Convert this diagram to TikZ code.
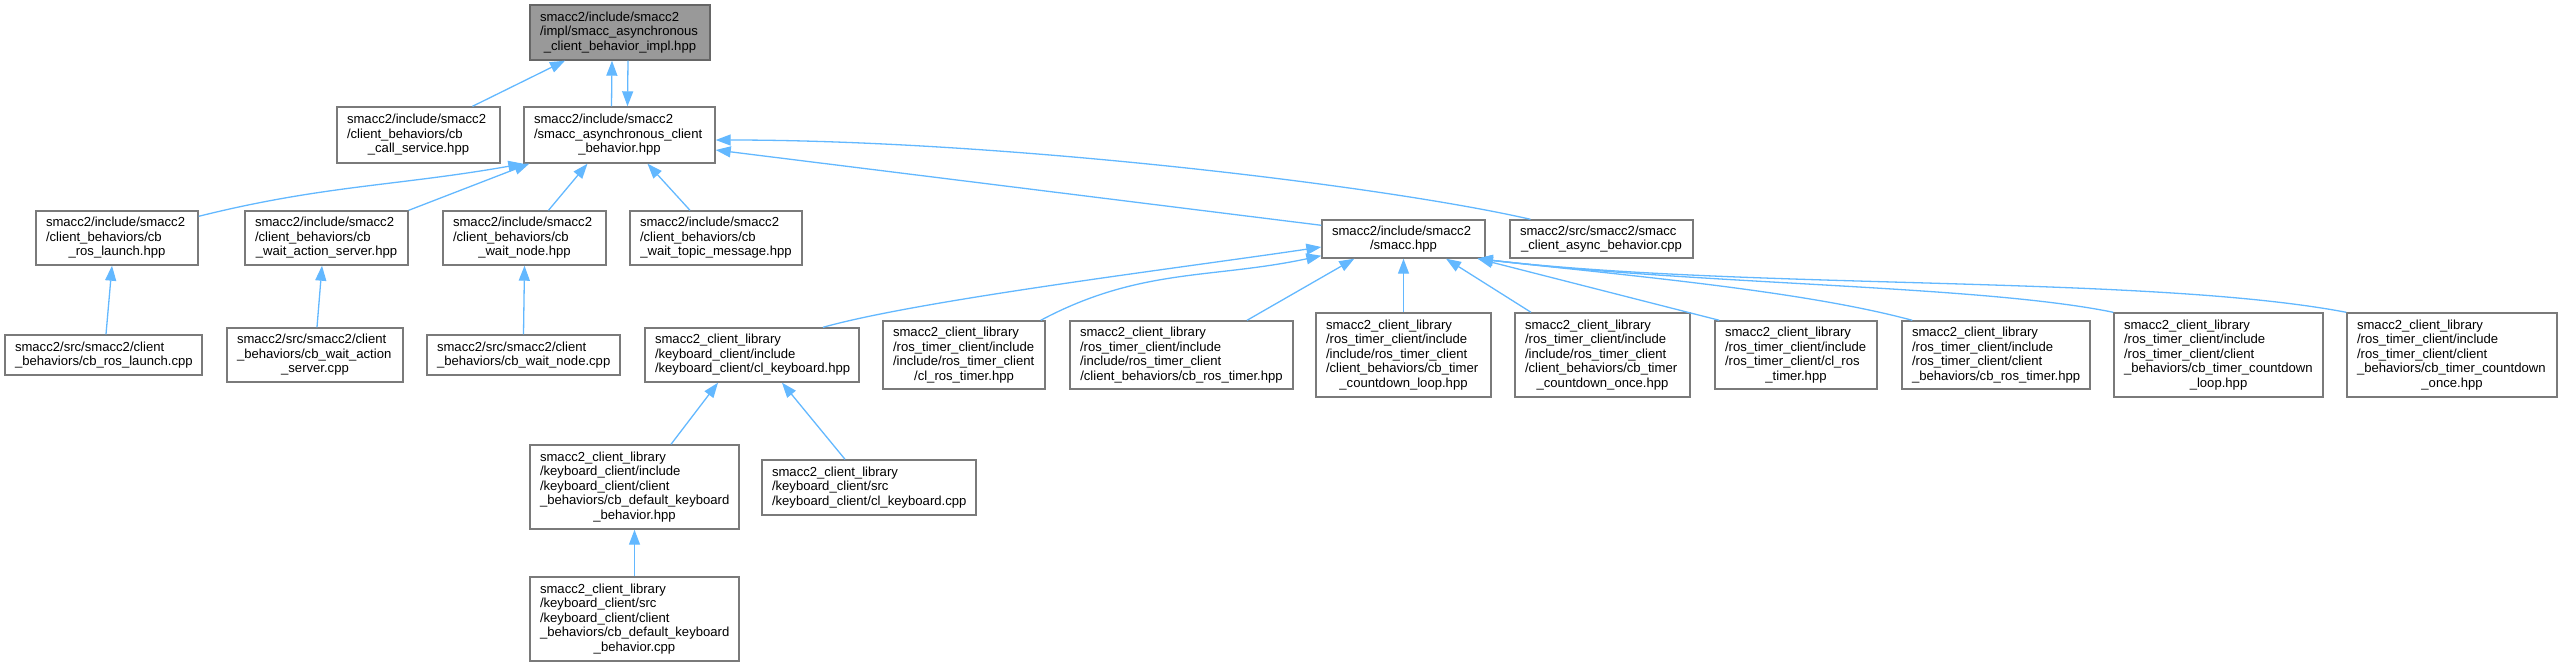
\documentclass[tikz,border=0pt]{standalone}
\usepackage{fontspec}
\setmainfont{Liberation Sans}
\usetikzlibrary{arrows.meta,calc}
\definecolor{edgeblue}{HTML}{63B8FF}
\definecolor{boxline}{HTML}{7A7A7A}
\definecolor{rootfill}{HTML}{999999}
\definecolor{rootline}{HTML}{666666}
\newcommand{\lastln}[1]{\hspace*{\fill}#1\hspace*{\fill}\mbox{}}
\tikzset{
  filebox/.style={draw=boxline, line width=1.4pt, fill=white, inner sep=0pt,
    align=left, font=\fontsize{13.1}{14.6}\selectfont},
  bx/.style n args={3}{minimum width=#1pt, text width=#2pt, minimum height=#3pt},
  rootbox/.style={filebox, draw=rootline, fill=rootfill},
  conn/.style={draw=edgeblue, line width=1.3pt, -{Triangle[length=15pt,width=11pt]}}
}
\begin{document}
\begin{tikzpicture}[x=1pt,y=1pt]
\path[use as bounding box] (0,0) rectangle (2562,-667);
% row 1
\node[rootbox, bx={180}{160}{55}] (root) at (620,-32.5) {smacc2/include/smacc2\\/impl/smacc\_asynchronous\\\lastln{\_client\_behavior\_impl.hpp}};
% row 2
\node[filebox, bx={163}{143}{56}] (cs) at (418.5,-135) {smacc2/include/smacc2\\/client\_behaviors/cb\\\lastln{\_call\_service.hpp}};
\node[filebox, bx={191}{171}{56}] (async) at (619.5,-135) {smacc2/include/smacc2\\/smacc\_asynchronous\_client\\\lastln{\_behavior.hpp}};
% row 3
\node[filebox, bx={162}{142}{54}] (rlh) at (117,-238) {smacc2/include/smacc2\\/client\_behaviors/cb\\\lastln{\_ros\_launch.hpp}};
\node[filebox, bx={163}{143}{54}] (wash) at (326.5,-238) {smacc2/include/smacc2\\/client\_behaviors/cb\\\lastln{\_wait\_action\_server.hpp}};
\node[filebox, bx={163}{143}{54}] (wnh) at (524.5,-238) {smacc2/include/smacc2\\/client\_behaviors/cb\\\lastln{\_wait\_node.hpp}};
\node[filebox, bx={172}{152}{54}] (wtmh) at (716,-238) {smacc2/include/smacc2\\/client\_behaviors/cb\\\lastln{\_wait\_topic\_message.hpp}};
\node[filebox, bx={163}{143}{38}] (smacc) at (1403.5,-239) {smacc2/include/smacc2\\\lastln{/smacc.hpp}};
\node[filebox, bx={183}{163}{38}] (acb) at (1601.5,-239) {smacc2/src/smacc2/smacc\\\lastln{\_client\_async\_behavior.cpp}};
% row 4
\node[filebox, bx={197}{177}{40}] (rlc) at (103.5,-355) {smacc2/src/smacc2/client\\\lastln{\_behaviors/cb\_ros\_launch.cpp}};
\node[filebox, bx={176}{156}{54}] (wasc) at (315,-355) {smacc2/src/smacc2/client\\\_behaviors/cb\_wait\_action\\\lastln{\_server.cpp}};
\node[filebox, bx={193}{173}{40}] (wnc) at (523.5,-355) {smacc2/src/smacc2/client\\\lastln{\_behaviors/cb\_wait\_node.cpp}};
\node[filebox, bx={214}{194}{54}] (clkh) at (752,-355) {smacc2\_client\_library\\/keyboard\_client/include\\\lastln{/keyboard\_client/cl\_keyboard.hpp}};
\node[filebox, bx={162}{142}{68}] (crtii) at (964,-355) {smacc2\_client\_library\\/ros\_timer\_client/include\\/include/ros\_timer\_client\\\lastln{/cl\_ros\_timer.hpp}};
\node[filebox, bx={223}{203}{68}] (cbrtii) at (1181.5,-355) {smacc2\_client\_library\\/ros\_timer\_client/include\\/include/ros\_timer\_client\\\lastln{/client\_behaviors/cb\_ros\_timer.hpp}};
\node[filebox, bx={175}{155}{84}] (cdlii) at (1403.5,-355) {smacc2\_client\_library\\/ros\_timer\_client/include\\/include/ros\_timer\_client\\/client\_behaviors/cb\_timer\\\lastln{\_countdown\_loop.hpp}};
\node[filebox, bx={175}{155}{84}] (cdoii) at (1602.5,-355) {smacc2\_client\_library\\/ros\_timer\_client/include\\/include/ros\_timer\_client\\/client\_behaviors/cb\_timer\\\lastln{\_countdown\_once.hpp}};
\node[filebox, bx={162}{142}{68}] (crt) at (1796,-355) {smacc2\_client\_library\\/ros\_timer\_client/include\\/ros\_timer\_client/cl\_ros\\\lastln{\_timer.hpp}};
\node[filebox, bx={188}{168}{68}] (cbrt) at (1996,-355) {smacc2\_client\_library\\/ros\_timer\_client/include\\/ros\_timer\_client/client\\\lastln{\_behaviors/cb\_ros\_timer.hpp}};
\node[filebox, bx={209}{189}{84}] (cdl) at (2218.5,-355) {smacc2\_client\_library\\/ros\_timer\_client/include\\/ros\_timer\_client/client\\\_behaviors/cb\_timer\_countdown\\\lastln{\_loop.hpp}};
\node[filebox, bx={210}{190}{84}] (cdo) at (2452,-355) {smacc2\_client\_library\\/ros\_timer\_client/include\\/ros\_timer\_client/client\\\_behaviors/cb\_timer\_countdown\\\lastln{\_once.hpp}};
% row 5
\node[filebox, bx={209}{189}{84}] (dkbh) at (634.5,-487) {smacc2\_client\_library\\/keyboard\_client/include\\/keyboard\_client/client\\\_behaviors/cb\_default\_keyboard\\\lastln{\_behavior.hpp}};
\node[filebox, bx={214}{194}{55}] (clkc) at (869,-487.5) {smacc2\_client\_library\\/keyboard\_client/src\\\lastln{/keyboard\_client/cl\_keyboard.cpp}};
% row 6
\node[filebox, bx={209}{189}{84}] (dkbc) at (634.5,-619) {smacc2\_client\_library\\/keyboard\_client/src\\/keyboard\_client/client\\\_behaviors/cb\_default\_keyboard\\\lastln{\_behavior.cpp}};
% connectors
\draw[conn] ($(cs.north)+(54,0)$) -- ($(root.south)+(-55,0)$);
\draw[conn] ($(async.north)+(-8,0)$) -- ($(root.south)+(-8,0)$);
\draw[conn] ($(root.south)+(8,0)$) -- ($(async.north)+(8,0)$);
\draw[conn] ($(rlh.north east)+(0,-6)$) to[out=14,in=-170] (async.south west);
\draw[conn] (wash.north east) -- ($(async.south west)+(6,0)$);
\draw[conn] ($(wnh.north)+(24,0)$) -- ($(async.south)+(-32,0)$);
\draw[conn] ($(wtmh.north)+(-26,0)$) -- ($(async.south)+(28,0)$);
\draw[conn] ($(smacc.north west)+(0,-6)$) -- ($(async.east)+(0,-15)$);
\draw[conn] ($(acb.north)+(-71,0)$) .. controls (1380,-185) and (1000,-140) .. ($(async.east)+(0,-5)$);
\draw[conn] ($(clkh.north)+(71,0)$) .. controls (920,-300) and (1180,-268) .. ($(smacc.west)+(0,-8)$);
\draw[conn] ($(crtii.north east)+(-5,0)$) to[out=28,in=-168] ($(smacc.south west)+(0,3)$);
\draw[conn] ($(cbrtii.north)+(65.5,0)$) -- ($(smacc.south west)+(33,0)$);
\draw[conn] (cdlii.north) -- (smacc.south);
\draw[conn] ($(cdoii.north)+(-71.5,0)$) -- ($(smacc.south)+(42.5,0)$);
\draw[conn] ($(crt.north west)+(5,0)$) -- ($(smacc.south east)+(-8,0)$);
\draw[conn] ($(cbrt.north west)+(11,0)$) .. controls (1800,-290) and (1620,-275) .. ($(smacc.south east)+(-8,0)$);
\draw[conn] (cdl.north west) .. controls (1980,-285) and (1700,-285) .. ($(smacc.south east)+(-8,0)$);
\draw[conn] (cdo.north west) .. controls (2150,-275) and (1750,-290) .. ($(smacc.south east)+(-8,0)$);
\draw[conn] ($(dkbh.north)+(36.5,0)$) -- ($(clkh.south)+(-34,0)$);
\draw[conn] ($(clkc.north)+(-24,0)$) -- ($(clkh.south)+(30,0)$);
\draw[conn] (dkbc.north) -- (dkbh.south);
\draw[conn] ($(rlc.north)+(2.5,0)$) -- ($(rlh.south)+(-5,0)$);
\draw[conn] ($(wasc.north)+(2,0)$) -- ($(wash.south)+(-4.5,0)$);
\draw[conn] (wnc.north) -- (wnh.south);
\end{tikzpicture}
\end{document}
